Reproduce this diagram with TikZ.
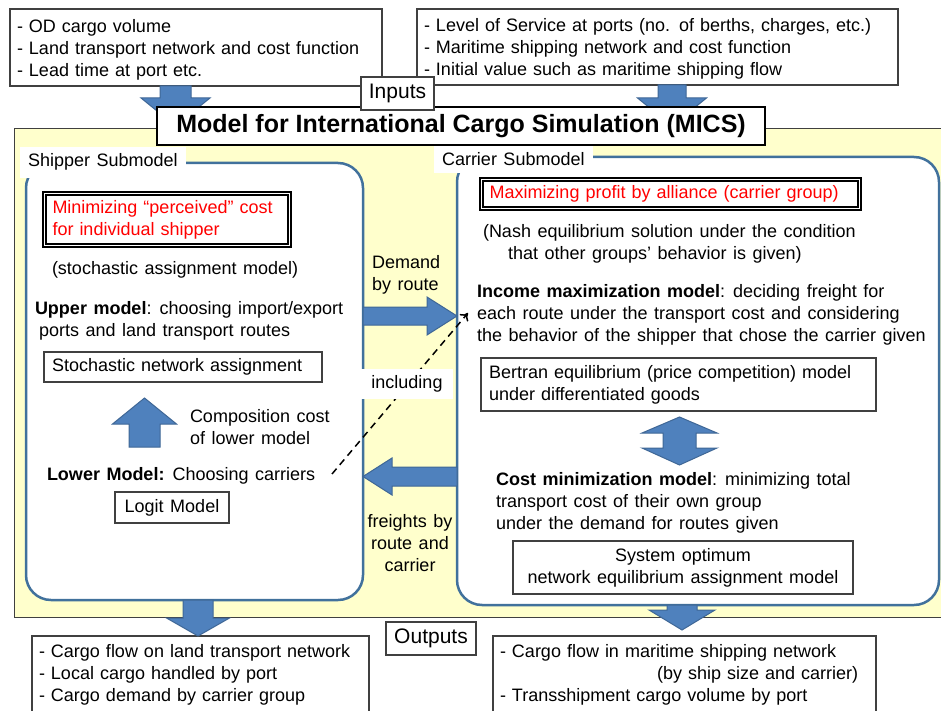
\documentclass[tikz,border=0pt]{standalone}
\usepackage{fontspec}
\setmainfont{Liberation Sans}
\usepackage{xcolor}
\usepackage{tikz}
\usetikzlibrary{shapes, arrows.meta, positioning, calc, backgrounds}

\definecolor{arrowblue}{HTML}{4F81BD}
\definecolor{arrowedge}{HTML}{3F6796}
\definecolor{frameblue}{HTML}{41719C}
\definecolor{bgyellow}{HTML}{FFFFCC}
\definecolor{boxgray}{HTML}{404040}
\newcommand{\diagfont}{\fontsize{18}{22}\selectfont\spaceskip=6.5pt plus 1pt minus 1pt\relax}

\begin{document}
\begin{tikzpicture}[x=1pt, y=-1pt, font=\diagfont, outer sep=0pt,
  box/.style={rectangle, draw=boxgray, line width=1.2pt, fill=white},
  listbox/.style={box, align=left, inner xsep=7pt},
  goalbox/.style={rectangle, draw=black, double, double distance=1.8pt, line width=1.3pt, fill=white, text=red, align=left, inner xsep=8pt},
  frame/.style={rectangle, draw=frameblue, line width=2.5pt, rounded corners=25pt, fill=white},
  sublabel/.style={fill=white, inner xsep=8pt, inner ysep=7pt},
  txt/.style={inner sep=0pt, align=left},
  blockarrow/.style={fill=arrowblue, draw=arrowedge, line width=1pt},
  fatarrow/.style n args={3}{blockarrow, to path={
    ($(\tikztostart)!#1!90:(\tikztotarget)$)
    -- ($(\tikztotarget)!#3!(\tikztostart)!#1!-90:(\tikztostart)$)
    -- ($(\tikztotarget)!#3!(\tikztostart)!#2!-90:(\tikztostart)$)
    -- (\tikztotarget)
    -- ($(\tikztotarget)!#3!(\tikztostart)!#2!90:(\tikztostart)$)
    -- ($(\tikztotarget)!#3!(\tikztostart)!#1!90:(\tikztostart)$)
    -- ($(\tikztostart)!#1!-90:(\tikztotarget)$) -- cycle}},
  dashline/.style={draw=black, line width=1.5pt, dash pattern=on 7pt off 5pt, -{To[length=7pt,width=11pt]}}]
\useasboundingbox (0,0) rectangle (941,711);

% MICS panel
\draw[fill=bgyellow, draw=boxgray, line width=0.8pt] (14,128) rectangle (960,617);

% submodels
\node[frame, minimum width=337pt, minimum height=437pt] (ship) at (194.5,381.5) {};
\node[frame, minimum width=482pt, minimum height=448pt] (carr) at (698,381) {};
\node[sublabel, anchor=base west] (shiplbl) at (20,167) {Shipper Submodel};
\node[sublabel, anchor=base west] (carrlbl) at (434,166) {Carrier Submodel};

% shipper side
\node[goalbox, minimum width=245pt, minimum height=52pt, text width=229pt] (shipgoal) at (167,219.5) {Minimizing “perceived” cost\\for individual shipper};
\node[txt, anchor=base west] (stoch) at (52,274) {(stochastic assignment model)};
\node[txt, anchor=base west] (upper) at (35,336) {\textbf{Upper model}: choosing import/export\\\hspace*{4pt}ports and land transport routes};
\node[box, minimum width=278pt, minimum height=30pt, text width=262pt, align=left, inner xsep=8pt] (sna) at (183,367) {Stochastic network assignment};
\node[txt, anchor=base west] (comp) at (190,444) {Composition cost\\of lower model};
\node[txt, anchor=base west] (lower) at (47,480) {\textbf{Lower Model:} Choosing carriers};
\node[box, minimum width=114pt, minimum height=31pt] (logit) at (172,507.5) {Logit Model};

\coordinate (cmpB) at (144.5,447);
\coordinate (cmpT) at (144.5,398);
\draw[fatarrow={15.5pt}{32pt}{26pt}] (cmpB) to (cmpT);

% between the submodels
\node[txt, anchor=base west] (demand) at (372,290) {Demand\\by route};
\node[txt, align=center, anchor=base] (freight) at (410,571) {freights by\\route and\\carrier};

\coordinate (dmd) at (0,316);
\coordinate (frt) at (0,476.5);
\draw[fatarrow={9pt}{19pt}{30pt}] (ship.east |- dmd) to (carr.west |- dmd);
\draw[fatarrow={9.5pt}{18.5pt}{29pt}] (carr.west |- frt) to (ship.east |- frt);

\coordinate (incA) at (332,474);
\coordinate (incB) at (468,313);
\draw[dashline] (incA) -- (incB);
\node[fill=white, inner xsep=10pt, inner ysep=7pt] (incl) at (407,384) {including};

% carrier side
\node[goalbox, minimum width=378pt, minimum height=29pt, text width=362pt] (carrgoal) at (670.5,194) {Maximizing profit by alliance (carrier group)};
\node[txt, anchor=base west] (nash) at (483,259) {(Nash equilibrium solution under the condition\\\hspace*{25pt}that other groups’ behavior is given)};
\node[txt, anchor=base west] (income) at (477,341) {\textbf{Income maximization model}: deciding freight for\\each route under the transport cost and considering\\the behavior of the shipper that chose the carrier given};
\node[box, minimum width=395pt, minimum height=53pt, text width=379pt, align=left, inner xsep=8pt] (bert) at (678.5,384.5) {Bertran equilibrium (price competition) model\\under differentiated goods};
\node[txt, anchor=base west] (costmin) at (496,529) {\textbf{Cost minimization model}: minimizing total\\transport cost of their own group\\under the demand for routes given};
\node[box, minimum width=340pt, minimum height=53pt, align=center] (sysopt) at (683,567.5) {System optimum\\network equilibrium assignment model};

\coordinate (bmid) at (679.5,441);
\draw[blockarrow] (bmid) ++(0,-24) -- ++(37.5,16) -- ++(-21,0) -- ++(0,15) -- ++(21,0)
  -- ++(-37.5,17) -- ++(-37.5,-17) -- ++(21,0) -- ++(0,-15) -- ++(-21,0) -- cycle;

% outputs
\node[listbox, anchor=north west, text width=323pt, inner ysep=8pt] (outl) at (32,636) {- Cargo flow on land transport network\\- Local cargo handled by port\\- Cargo demand by carrier group};
\node[listbox, anchor=north west, text width=369pt, inner ysep=8pt] (outr) at (493,636) {- Cargo flow in maritime shipping network\\\hspace*{157pt}(by ship size and carrier)\\- Transshipment cargo volume by port};
\node[box, minimum width=90pt, minimum height=33pt, font=\fontsize{21}{25}\selectfont] (outputs) at (431,638.5) {Outputs};

\coordinate (outA) at (198,0);
\coordinate (outB) at (682,630);
\draw[fatarrow={15pt}{31.5pt}{18pt}] (ship.south -| outA) to (outl.north -| outA);
\draw[fatarrow={15pt}{33pt}{20pt}] (carr.south -| outB) to (outB);

% inputs
\node[listbox, minimum width=372pt, minimum height=77pt, text width=358pt] (inl) at (196,47.5) {\rule{0pt}{17pt}- OD cargo volume\\- Land transport network and cost function\\- Lead time at port etc.};
\node[listbox, minimum width=481pt, minimum height=76pt, text width=467pt] (inr) at (657.5,47) {\rule{0pt}{17pt}- Level of Service at ports (no. of berths, charges, etc.)\\- Maritime shipping network and cost function\\- Initial value such as maritime shipping flow};

\coordinate (mics) at (461,126);
\coordinate (inA) at (175.5,0);
\coordinate (inB) at (672,0);
\draw[fatarrow={15.5pt}{34.5pt}{28pt}] (inl.south -| inA) to (mics -| inA);
\draw[fatarrow={14pt}{34.5pt}{28pt}] (inr.south -| inB) to (mics -| inB);

\node[box, draw=black, minimum width=608pt, minimum height=38pt, font=\bfseries\fontsize{25}{30}\selectfont] (title) at (mics) {Model for International Cargo Simulation (MICS)};
\node[box, minimum width=73pt, minimum height=33pt, font=\fontsize{21}{25}\selectfont] (inputs) at (397.5,93.5) {Inputs};
\end{tikzpicture}
\end{document}
